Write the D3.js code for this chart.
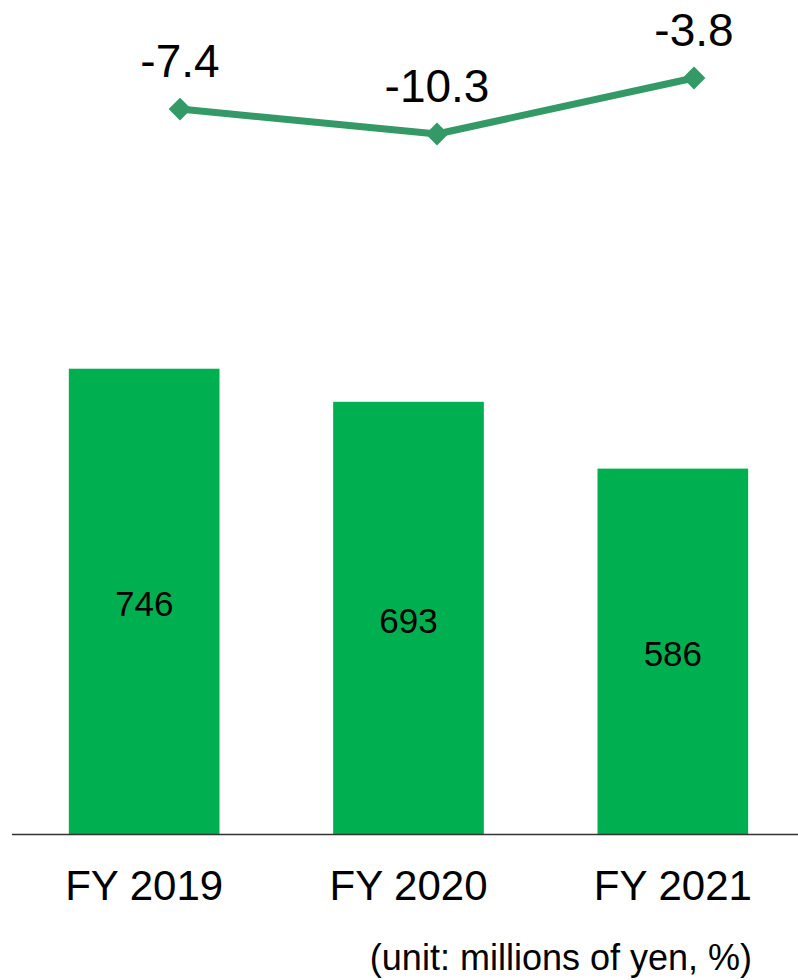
<!DOCTYPE html>
<html>
<head>
<meta charset="utf-8">
<script src="https://cdn.jsdelivr.net/npm/d3@7"></script>
<style>
  html, body { margin: 0; padding: 0; background: #fff; }
  svg { display: block; font-family: "Liberation Sans", Arial, sans-serif; }
</style>
</head>
<body>
<svg id="chart" width="798" height="980"></svg>
<script>
// Fiscal years shown on the category axis
const categories = ["FY 2019", "FY 2020", "FY 2021"];
// Amounts, millions of yen (bars)
const amounts = [746, 693, 586];
// Year-on-year change, % (line)
const changes = [-7.4, -10.3, -3.8];
const unitNote = "(unit: millions of yen, %)";

const W = 798, H = 980;
const svg = d3.select("#chart");

const barGreen = "#00B050";
const lineGreen = "#339966";

// Bar scales
const x = d3.scaleBand()
  .domain(categories)
  .range([12, 805])
  .paddingInner(0.43)
  .paddingOuter(0.215);

const y = d3.scaleLinear()
  .domain([0, 800])
  .range([834.5, 335]);

// Line scales (separate plot area above the bars)
const xl = d3.scalePoint()
  .domain(categories)
  .range([180, 694]);

const yl = d3.scaleLinear()
  .domain([-10.3, -3.8])
  .range([134, 78]);

// Bars
svg.append("g")
  .selectAll("rect")
  .data(categories)
  .join("rect")
  .attr("x", d => x(d))
  .attr("width", x.bandwidth())
  .attr("y", (d, i) => y(amounts[i]))
  .attr("height", (d, i) => y(0) - y(amounts[i]))
  .attr("fill", barGreen);

// Bar value labels, centred in each bar
svg.append("g")
  .selectAll("text")
  .data(categories)
  .join("text")
  .attr("x", d => x(d) + x.bandwidth() / 2)
  .attr("y", (d, i) => (y(amounts[i]) + y(0)) / 2 + 2)
  .attr("text-anchor", "middle")
  .attr("dominant-baseline", "central")
  .attr("font-size", 35)
  .attr("fill", "#000")
  .text((d, i) => amounts[i]);

// Category axis: baseline rule plus labels
const xAxis = d3.axisBottom(x).tickSize(0).tickPadding(0);
const axisG = svg.append("g")
  .attr("transform", `translate(0,${y(0)})`)
  .call(xAxis);
axisG.select(".domain").remove();
axisG.selectAll("text")
  .attr("font-family", "Liberation Sans, Arial, sans-serif")
  .attr("font-size", 42)
  .attr("fill", "#000")
  .attr("dy", null)
  .attr("y", 65);

svg.append("line")
  .attr("x1", 12).attr("x2", W)
  .attr("y1", y(0)).attr("y2", y(0))
  .attr("stroke", "#333")
  .attr("stroke-width", 1.3);

// Change line with diamond markers
const line = d3.line()
  .x((d, i) => xl(categories[i]))
  .y(d => yl(d));

svg.append("path")
  .datum(changes)
  .attr("d", line)
  .attr("fill", "none")
  .attr("stroke", lineGreen)
  .attr("stroke-width", 7)
  .attr("stroke-linejoin", "round");

const diamond = d3.symbol().type(d3.symbolDiamond2).size(330);
svg.append("g")
  .selectAll("path")
  .data(changes)
  .join("path")
  .attr("transform", (d, i) => `translate(${xl(categories[i])},${yl(d)})`)
  .attr("d", diamond)
  .attr("fill", lineGreen);

// Change value labels
svg.append("g")
  .selectAll("text")
  .data(changes)
  .join("text")
  .attr("x", (d, i) => xl(categories[i]))
  .attr("y", d => yl(d) - 32)
  .attr("text-anchor", "middle")
  .attr("font-size", 46)
  .attr("fill", "#000")
  .text(d => d.toFixed(1));

// Unit note
svg.append("text")
  .attr("x", 752)
  .attr("y", 970)
  .attr("text-anchor", "end")
  .attr("font-size", 36)
  .attr("fill", "#000")
  .text(unitNote);
</script>
</body>
</html>
